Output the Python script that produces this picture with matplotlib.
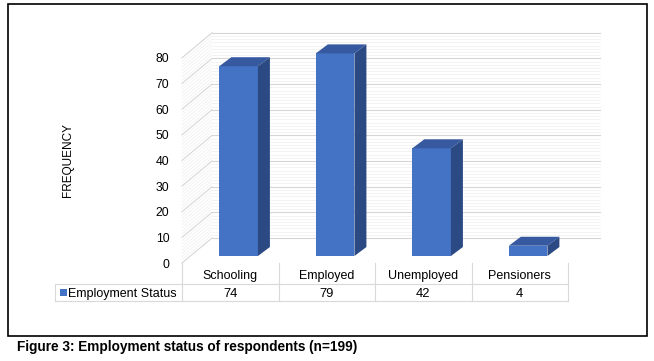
import numpy as np
import matplotlib.pyplot as plt
from matplotlib.patches import Polygon, Rectangle
from matplotlib.transforms import blended_transform_factory

plt.rcParams['font.family'] = ['Liberation Sans', 'DejaVu Sans']

categories = ['Schooling', 'Employed', 'Unemployed', 'Pensioners']
values = [74, 79, 42, 4]
series_name = 'Employment Status'
y_ticks = [0, 10, 20, 30, 40, 50, 60, 70, 80]
y_label = 'FREQUENCY'
caption = 'Figure 3: Employment status of respondents (n=199)'

FRONT = '#4472C4'
TOP = '#3659A0'
SIDE = '#2B4A83'
GRID = '#d6d6d6'
GRID_MINOR = '#efefef'
TABLE_LINE = '#d9d9d9'

W, H = 654, 361
# fake 3d: depth of the whole plot box and of the bars (data units)
DEPTH_X, DEPTH_Y = 0.311, 9.75
BAR_OFF_X, BAR_OFF_Y = 0.087, 2.73
BAR_DX, BAR_DY = 0.124, 3.5
BAR_W = 0.40


def fy(py):
    return 1 - py / H


fig = plt.figure(figsize=(W / 100, H / 100), dpi=100)
ax = fig.add_axes([182 / W, fy(263), 418 / W, 231 / H])
x0 = -0.5
xmax = x0 + 418 / 96.5
ax.set_xlim(x0, xmax)
ax.set_ylim(0, 231 / 2.565)

# back wall and side wall grid
for v in np.arange(0, 80.01, 1.25):
    major = abs(v % 10) < 1e-9
    col = GRID if major else GRID_MINOR
    lw = 0.8 if major else 0.5
    z = 1 if major else 0.5
    ax.plot([x0 + DEPTH_X, xmax], [v + DEPTH_Y] * 2, color=col, lw=lw, zorder=z, clip_on=False)
    ax.plot([x0, x0 + DEPTH_X], [v, v + DEPTH_Y], color=col, lw=lw, zorder=z, clip_on=False)

# bars
xs = np.arange(len(categories)) + BAR_OFF_X
ax.bar(xs, values, width=BAR_W, bottom=BAR_OFF_Y, color=FRONT, zorder=3)
for xc, v in zip(xs, values):
    xl, xr = xc - BAR_W / 2, xc + BAR_W / 2
    b, t = BAR_OFF_Y, BAR_OFF_Y + v
    ax.add_patch(Polygon([(xl, t), (xr, t), (xr + BAR_DX, t + BAR_DY), (xl + BAR_DX, t + BAR_DY)],
                         closed=True, facecolor=TOP, edgecolor='none', zorder=3))
    ax.add_patch(Polygon([(xr, b), (xr + BAR_DX, b + BAR_DY), (xr + BAR_DX, t + BAR_DY), (xr, t)],
                         closed=True, facecolor=SIDE, edgecolor='none', zorder=3))

ax.set_xticks([])
ax.set_yticks(y_ticks)
ax.set_yticklabels([str(t) for t in y_ticks], fontsize=8.8)
ax.tick_params(axis='y', length=0, pad=9)
for s in ax.spines.values():
    s.set_visible(False)
ax.patch.set_visible(False)

fig.text(68 / W, fy(160), y_label, rotation=90, fontsize=8.5, ha='center', va='center')

# data table under the plot
tr = blended_transform_factory(ax.transData, fig.transFigure)
n = len(categories)
for i in range(n + 1):
    fig.add_artist(plt.Line2D([x0 + i, x0 + i], [fy(263), fy(301)], color=TABLE_LINE, lw=0.8, transform=tr))
for py in (284, 301):
    fig.add_artist(plt.Line2D([55 / W, 182 / W], [fy(py)] * 2, color=TABLE_LINE, lw=0.8, transform=fig.transFigure))
    fig.add_artist(plt.Line2D([x0, x0 + n], [fy(py)] * 2, color=TABLE_LINE, lw=0.8, transform=tr))
fig.add_artist(plt.Line2D([55 / W, 55 / W], [fy(284), fy(301)], color=TABLE_LINE, lw=0.8, transform=fig.transFigure))

for i, (c, v) in enumerate(zip(categories, values)):
    fig.text(i, fy(279), c, transform=tr, ha='center', va='baseline', fontsize=9)
    fig.text(i, fy(297), str(v), transform=tr, ha='center', va='baseline', fontsize=9.3)

fig.add_artist(Rectangle((59.5 / W, fy(296)), 7 / W, 7 / H, facecolor=FRONT, edgecolor='none',
                         transform=fig.transFigure))
fig.text(68 / W, fy(296.5), series_name, ha='left', va='baseline', fontsize=9)

# frame and caption
fig.add_artist(Rectangle((8 / W, fy(336)), 639 / W, 332 / H, fill=False, edgecolor='black', lw=1.2,
                         transform=fig.transFigure))
fig.text(17 / W, fy(347), caption, ha='left', va='center', fontsize=9.8, fontweight='bold')

fig.savefig('out.png', dpi=100)
